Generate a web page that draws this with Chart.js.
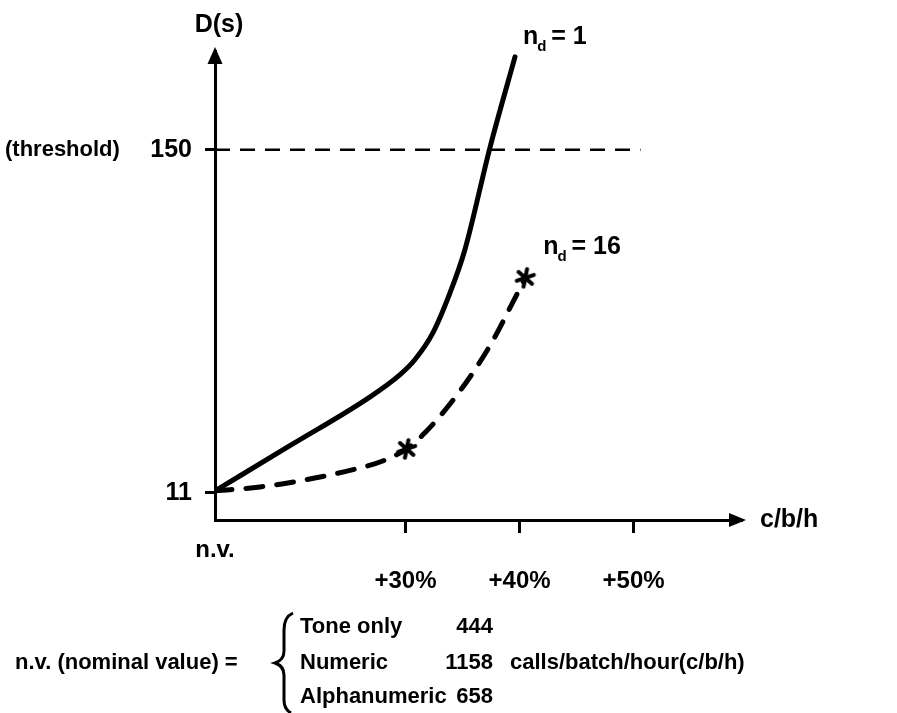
<!DOCTYPE html>
<html>
<head>
<meta charset="utf-8">
<script src="https://cdn.jsdelivr.net/npm/chart.js@4.4.0/dist/chart.umd.min.js"></script>
<style>
  html, body { margin: 0; padding: 0; background: #fff; }
  #wrap { width: 897px; height: 713px; }
</style>
</head>
<body>
<div id="wrap"><canvas id="chartDelay"></canvas></div>
<script>
// x: load above nominal (axis starts at n.v.), y: delay D(s)
const xAxisStart = 13.3;
const xAxisEnd = 59.5;
const xTickValues = [13.3, 30, 40, 50];
const xTickLabels = ['n.v.', '+30%', '+40%', '+50%'];
const yAxisMax = 190;
const yTickValues = [11, 150];
const yTickLabels = ['11', '150'];

const thresholdX = [13.3, 50.6];
const thresholdY = [150, 150];

// n_d = 1 (solid)
const nd1X = [13.3, 19.9, 26.9, 29.5, 30.8, 32.4, 33.9, 35.2, 37.4, 39.6];
const nd1Y = [11.8, 30.2, 49.9, 58.8, 64.8, 75.8, 92.0, 109.4, 150.8, 187.6];

// n_d = 16 (dashed) and its two marked points
const nd16X = [13.3, 17.25, 21.6, 26.0, 28.0, 30.1, 31.7, 33.9, 35.9, 37.7, 39.2, 40.5];
const nd16Y = [11.8, 13.4, 16.6, 21.1, 23.9, 28.8, 35.3, 47.0, 59.6, 73.0, 86.3, 98.1];
const nd16MarkX = [30.1, 40.5];
const nd16MarkY = [28.8, 98.1];

const nominalNames = ['Tone only', 'Numeric', 'Alphanumeric'];
const nominalValues = [444, 1158, 658];

const FONT = '"Liberation Sans", Arial, sans-serif';

function pts(xs, ys) {
  return xs.map((x, i) => ({ x: x, y: ys[i] }));
}

// printed asterisk used as marker
function makeAsterisk() {
  const c = document.createElement('canvas');
  c.width = 24; c.height = 24;
  const g = c.getContext('2d');
  g.strokeStyle = '#000';
  g.lineWidth = 4;
  g.lineCap = 'round';
  g.translate(12, 12);
  g.rotate(0.2);
  for (let k = 0; k < 3; k++) {
    g.beginPath();
    g.moveTo(0, -9);
    g.lineTo(0, 9);
    g.stroke();
    g.rotate(Math.PI / 3);
  }
  return c;
}

const annotations = {
  id: 'annotations',
  afterDraw(chart) {
    const ctx = chart.ctx;
    const area = chart.chartArea;
    const xs = chart.scales.x;
    const ys = chart.scales.y;
    ctx.save();
    ctx.fillStyle = '#000';
    ctx.strokeStyle = '#000';

    // axis arrowheads
    ctx.beginPath();
    ctx.moveTo(area.left, area.top - 4);
    ctx.lineTo(area.left - 7.5, area.top + 13);
    ctx.lineTo(area.left + 7.5, area.top + 13);
    ctx.closePath();
    ctx.fill();
    ctx.beginPath();
    ctx.moveTo(area.right + 4, area.bottom);
    ctx.lineTo(area.right - 13, area.bottom - 7);
    ctx.lineTo(area.right - 13, area.bottom + 7);
    ctx.closePath();
    ctx.fill();

    // axis titles
    ctx.font = 'bold 25px ' + FONT;
    ctx.textBaseline = 'middle';
    ctx.textAlign = 'center';
    ctx.fillText('D(s)', area.left + 4, 25);
    ctx.textAlign = 'left';
    ctx.fillText('c/b/h', area.right + 18, area.bottom);

    // threshold word next to the 150 tick
    ctx.font = 'bold 22px ' + FONT;
    ctx.fillText('(threshold)', 5, ys.getPixelForValue(thresholdY[0]));

    // curve labels
    function ndLabel(x, y, txt) {
      ctx.textAlign = 'left';
      ctx.textBaseline = 'alphabetic';
      ctx.font = 'bold 25px ' + FONT;
      ctx.fillText('n', x, y);
      const w = ctx.measureText('n').width;
      ctx.font = 'bold 15px ' + FONT;
      ctx.fillText('d', x + w - 1, y + 7);
      ctx.font = 'bold 25px ' + FONT;
      ctx.fillText(txt, x + w + 6, y);
    }
    const e1x = xs.getPixelForValue(nd1X[nd1X.length - 1]);
    const e1y = ys.getPixelForValue(nd1Y[nd1Y.length - 1]);
    ndLabel(e1x + 8, e1y - 13, ' = 1');
    const e2x = xs.getPixelForValue(nd16MarkX[1]);
    const e2y = ys.getPixelForValue(nd16MarkY[1]);
    ndLabel(e2x + 18, e2y - 24, ' = 16');

    // nominal value legend
    ctx.font = 'bold 22px ' + FONT;
    ctx.textBaseline = 'middle';
    ctx.textAlign = 'left';
    const rows = [627, 663, 697];
    ctx.fillText('n.v. (nominal value) =', 15, rows[1]);
    nominalNames.forEach((n, i) => {
      ctx.textAlign = 'left';
      ctx.fillText(n, 300, rows[i]);
      ctx.textAlign = 'right';
      ctx.fillText(String(nominalValues[i]), 493, rows[i]);
    });
    ctx.textAlign = 'left';
    ctx.fillText('calls/batch/hour(c/b/h)', 510, rows[1]);

    // brace
    ctx.lineWidth = 3;
    ctx.beginPath();
    ctx.moveTo(293, 613);
    ctx.quadraticCurveTo(284, 617, 284, 630);
    ctx.lineTo(284, 651);
    ctx.quadraticCurveTo(284, 660, 275, 663);
    ctx.quadraticCurveTo(284, 666, 284, 675);
    ctx.lineTo(284, 700);
    ctx.quadraticCurveTo(284, 709, 291, 713);
    ctx.stroke();
    ctx.restore();
  }
};

new Chart(document.getElementById('chartDelay').getContext('2d'), {
  type: 'line',
  data: {
    datasets: [
      {
        label: 'threshold',
        data: pts(thresholdX, thresholdY),
        borderColor: '#000',
        borderWidth: 2.3,
        borderDash: [15, 10],
        pointRadius: 0,
        tension: 0
      },
      {
        label: 'n_d = 1',
        data: pts(nd1X, nd1Y),
        borderColor: '#000',
        borderWidth: 5,
        borderCapStyle: 'round',
        pointRadius: 0,
        cubicInterpolationMode: 'monotone'
      },
      {
        label: 'n_d = 16',
        data: pts(nd16X, nd16Y),
        borderColor: '#000',
        borderWidth: 5,
        borderDash: [17, 14],
        borderCapStyle: 'round',
        pointRadius: 0,
        cubicInterpolationMode: 'monotone'
      },
      {
        label: 'marks',
        data: pts(nd16MarkX, nd16MarkY),
        showLine: false,
        pointStyle: makeAsterisk(),
        pointRadius: 10,
        borderColor: '#000',
        backgroundColor: '#000'
      }
    ]
  },
  options: {
    responsive: true,
    maintainAspectRatio: false,
    animation: false,
    layout: { padding: { top: 51, right: 155, left: 0, bottom: 0 } },
    plugins: { legend: { display: false }, tooltip: { enabled: false } },
    scales: {
      x: {
        type: 'linear',
        min: xAxisStart,
        max: xAxisEnd,
        afterBuildTicks: scale => { scale.ticks = xTickValues.map(v => ({ value: v })); },
        afterFit: scale => { scale.height = 193; },
        border: { display: true, color: '#000', width: 3 },
        grid: {
          drawOnChartArea: false,
          drawTicks: true,
          tickLength: 13,
          tickWidth: 3,
          tickColor: c => (c.index === 0 ? 'rgba(0,0,0,0)' : '#000')
        },
        ticks: {
          autoSkip: false,
          maxRotation: 0,
          color: '#000',
          padding: 2,
          font: { family: FONT, size: 24, weight: 'bold', lineHeight: 1.3 },
          callback: (v, i) => (i === 0 ? xTickLabels[0] : ['', xTickLabels[i]])
        }
      },
      y: {
        type: 'linear',
        min: 0,
        max: yAxisMax,
        afterBuildTicks: scale => { scale.ticks = yTickValues.map(v => ({ value: v })); },
        afterFit: scale => { scale.width = 215; },
        border: { display: true, color: '#000', width: 3 },
        grid: {
          drawOnChartArea: false,
          drawTicks: true,
          tickLength: 10,
          tickWidth: 3,
          tickColor: '#000'
        },
        ticks: {
          autoSkip: false,
          color: '#000',
          padding: 13,
          font: { family: FONT, size: 25, weight: 'bold' },
          callback: (v, i) => yTickLabels[i]
        }
      }
    }
  },
  plugins: [annotations]
});
</script>
</body>
</html>
